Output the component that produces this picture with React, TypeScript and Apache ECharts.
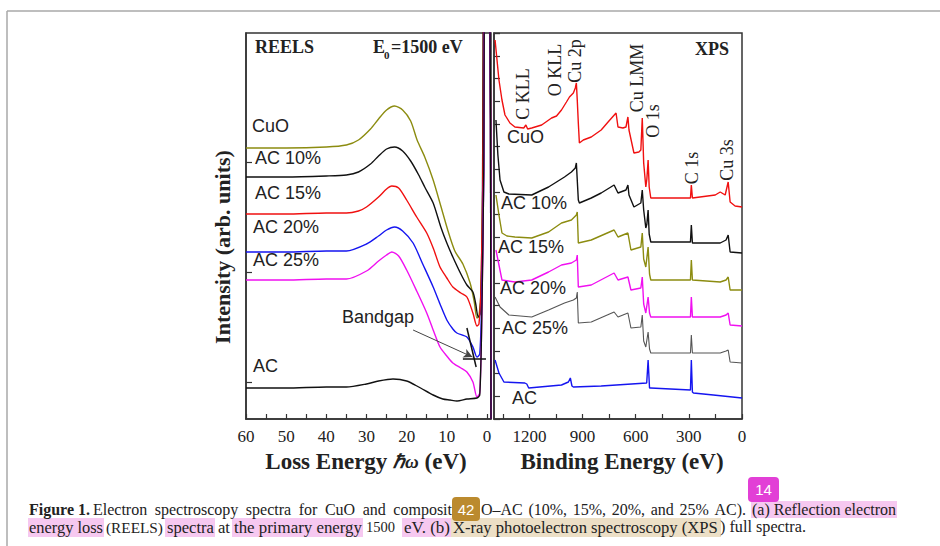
import React, { useEffect, useRef } from 'react';
import * as echarts from 'echarts';

const SERIF = '"Liberation Serif", "Times New Roman", serif';
const SANS = '"Liberation Sans", Arial, sans-serif';

// REELS: [loss energy (eV), intensity (arb.)]
const reelsCuO: number[][] = [[60,271],[50,271],[40,272],[35,274],[32,279],[29,290],[27,300],[25,309],[23,313],[21,309],[19,298],[17.4,279],[15.5,262],[13.4,239],[11.5,213],[9.7,188],[8,168],[6,155],[4.2,136],[3.2,118],[2.5,101],[2.0,103],[1.5,130],[1.0,250],[0.5,600],[-0.5,600],[-1,0]];
const reelsAC10: number[][] = [[60,242],[50,242],[40,243],[35,244],[32,247],[29,255],[27,263],[25,270],[23,272],[21,268],[19,258],[17,244],[15.5,232],[13.4,216],[11.5,192],[10,176],[8.5,162],[6.5,145],[5,134],[3.5,127],[2.8,115],[2.2,102],[1.7,105],[1.2,180],[0.5,600],[-0.5,600],[-1,0]];
const reelsAC15: number[][] = [[60,205],[50,205],[40,206],[35,206],[32,208],[30,212],[27,222],[25,230],[23.7,233],[22,231],[20,219],[17.5,202],[15,186],[13.3,170],[11.7,152],[10,141],[8.5,132],[6.5,126],[5,122],[3.5,106],[2.5,93],[2.0,95],[1.5,130],[1.0,250],[0.5,600],[-0.5,600],[-1,0]];
const reelsAC20: number[][] = [[60,167],[50,167],[40,168],[35,168],[30,175],[27,183],[25,189],[23,192],[21,188],[18.4,176],[16,155],[13.4,132],[11.7,115],[10,99],[8.5,90],[7.5,86],[5,82],[3.5,72],[2.5,62],[1.8,65],[1.3,120],[0.8,250],[0.4,600],[-0.5,600],[-1,0]];
const reelsAC25: number[][] = [[60,139],[50,139],[40,140],[35,140],[30,148],[27,158],[25,164],[23.7,167],[22,163],[20,149],[17.5,128],[15,106],[13.3,88],[11.7,72],[10,63],[8.5,56],[6.5,51],[5,47],[3.5,37],[2.5,22],[1.8,26],[1.3,100],[0.8,250],[0.4,600],[-0.5,600],[-1,0]];
const reelsAC: number[][] = [[60,31],[50,31],[40,32],[35,32],[30,35],[27,38],[23.4,40],[20,38],[17,32],[13.4,24],[11,20],[9.2,19],[7.5,18],[5,20],[2.5,21],[1.8,24],[1.3,100],[0.8,250],[0.4,600],[-0.5,600],[-1,0]];

// XPS: [binding energy (eV), intensity (arb.)]
const xpsCuO: number[][] = [[1394,379],[1372,339],[1355,319],[1338,304],[1310,296],[1282,292],[1232,291],[1220,294],[1210,290],[1187,291],[1131,294],[1075,301],[1047,303],[1019,309],[991,317],[974,322],[952,326],[941,331],[935,336],[930,319],[924,296],[918,276],[896,279],[851,282],[795,289],[756,297],[711,306],[700,292],[672,291],[655,292],[644,302],[638,289],[610,266],[582,267],[571,269],[563,301],[555,256],[543,232],[537,240],[530,259],[524,232],[515,221],[400,221],[291,221],[286,234],[280,221],[151,224],[123,227],[95,224],[78,237],[67,217],[39,213],[0,212]];
const xpsAC10: number[][] = [[1389,299],[1378,264],[1366,239],[1344,227],[1316,225],[1187,224],[1092,232],[1002,242],[963,247],[941,251],[935,256],[930,239],[924,219],[918,216],[851,221],[795,226],[722,234],[700,226],[655,229],[644,234],[638,224],[610,212],[571,216],[563,229],[555,209],[543,191],[537,195],[530,209],[524,185],[515,177],[291,177],[286,194],[280,176],[123,176],[90,179],[78,184],[67,167],[0,166]];
const xpsAC15: number[][] = [[1389,224],[1372,204],[1355,186],[1327,183],[1282,182],[1187,181],[1092,187],[1019,196],[963,199],[935,204],[930,207],[924,176],[851,179],[722,189],[700,182],[644,186],[627,169],[571,172],[563,186],[555,160],[543,152],[530,172],[522,145],[515,139],[291,139],[286,159],[280,139],[123,137],[90,139],[78,142],[67,129],[0,129]];
const xpsAC20: number[][] = [[1389,169],[1372,154],[1355,139],[1282,137],[1187,139],[1092,147],[1019,154],[963,156],[935,159],[930,164],[924,132],[851,134],[722,146],[700,139],[644,142],[627,129],[571,131],[563,142],[555,115],[543,106],[530,122],[522,106],[515,102],[291,102],[286,122],[280,102],[123,102],[90,104],[78,106],[67,94],[0,93]];
const xpsAC25: number[][] = [[1394,122],[1366,112],[1316,104],[1187,102],[1092,109],[1002,116],[952,119],[935,121],[930,127],[924,96],[851,97],[722,107],[700,102],[644,106],[627,91],[571,92],[563,104],[555,78],[543,72],[530,87],[522,70],[515,66],[291,66],[286,84],[280,66],[123,66],[90,68],[78,69],[67,57],[0,56]];
const xpsAC: number[][] = [[1394,59],[1372,46],[1344,37],[1226,36],[1215,35],[1204,31],[1019,34],[980,37],[969,41],[960,33],[952,32],[795,33],[538,36],[530,59],[522,31],[515,31],[291,29],[286,59],[280,27],[274,26],[162,24],[0,21]];

const reelsLabelTicks = [0, 10, 20, 30, 40, 50, 60];
const reelsMinorTicks = [0, 5, 10, 15, 20, 25, 30, 35, 40, 45, 50, 55, 60];
const xpsLabelTicks = [0, 300, 600, 900, 1200];
const xpsMinorTicks = [0, 150, 300, 450, 600, 750, 900, 1050, 1200, 1350];
const reelsYTicks = [37, 147, 257];

const reelsNames = ['CuO', 'AC 10%', 'AC 15%', 'AC 20%', 'AC 25%', 'AC'];
const reelsColors = ['#8c8c10', '#111111', '#f01010', '#1515f0', '#f010f0', '#111111'];
const reelsData = [reelsCuO, reelsAC10, reelsAC15, reelsAC20, reelsAC25, reelsAC];
const xpsColors = ['#f01010', '#111111', '#8c8c10', '#f010f0', '#555555', '#1515f0'];
const xpsData = [xpsCuO, xpsAC10, xpsAC15, xpsAC20, xpsAC25, xpsAC];

const peakLabels: [string, number, number][] = [
  ['C KLL', 523, 94], ['O KLL', 555, 70], ['Cu 2p', 575, 61], ['Cu LMM', 637, 78],
  ['O 1s', 653, 121], ['C 1s', 692, 168], ['Cu 3s', 727, 160],
];

// caption line 2 pieces: [text, left, right]
const captionLine2: [string, number, number][] = [
  ['energy loss', 29, 103], ['(REELS)', 106, 163], ['spectra', 167, 214], ['at', 218, 230],
  ['the primary energy', 234, 362], ['1500', 366, 395], ['eV. (b)', 404, 450],
  ['X-ray photoelectron spectroscopy (XPS', 453, 718], [') full spectra.', 720, 806],
];

function measure(text: string, font: string): number {
  const c = document.createElement('canvas').getContext('2d');
  if (!c) return text.length * 7;
  c.font = font;
  return c.measureText(text).width;
}

function justified(text: string, x0: number, x1: number, y: number, size: number): any[] {
  const words = text.split(' ');
  const font = `${size}px "Liberation Serif"`;
  const widths = words.map((w) => measure(w, font));
  const total = widths.reduce((a, b) => a + b, 0);
  const gap = words.length > 1 ? (x1 - x0 - total) / (words.length - 1) : 0;
  let x = x0;
  return words.map((w, i) => {
    const el = txt(w, x, y, { fontSize: size, fontFamily: SERIF, fill: '#222' });
    x += widths[i] + gap;
    return el;
  });
}

function fitted(text: string, x0: number, x1: number, y: number): any {
  const w = measure(text, '16px "Liberation Serif"');
  const size = Math.max(14, Math.min(17, (16 * (x1 - x0)) / Math.max(w, 1)));
  return txt(text, x0, y, { fontFamily: SERIF, fontSize: size });
}

function txt(text: string, x: number, y: number, s: any = {}, extra: any = {}) {
  return {
    type: 'text', x, y, z: 100, ...extra,
    style: {
      text, fill: '#222', fontFamily: SANS, fontSize: 18,
      align: 'left', verticalAlign: 'middle', textAlign: 'left', textVerticalAlign: 'middle', ...s,
    },
  };
}

function rect(x: number, y: number, w: number, h: number, fill: string, r = 0) {
  return { type: 'rect', z: 90, shape: { x, y, width: w, height: h, r }, style: { fill } };
}

export default function App() {
  const ref = useRef<HTMLDivElement>(null);
  useEffect(() => {
    if (!ref.current) return;
    const chart = echarts.init(ref.current, undefined, { renderer: 'svg' });
    const axisLineStyle = { color: '#333', width: 1.5 };
    const series: any[] = [];
    reelsData.forEach((d, i) => {
      const s: any = {
        type: 'line', name: 'REELS ' + reelsNames[i], xAxisIndex: 0, yAxisIndex: 0, data: d,
        showSymbol: false, symbol: 'none', smooth: 0.25, clip: true,
        lineStyle: { color: reelsColors[i], width: 1.4 }, z: 3,
      };
      if (i === 4) {
        s.markLine = {
          silent: true, symbol: ['none', 'none'], label: { show: false },
          data: [
            [{ coord: [5.0, 91], lineStyle: { color: '#111', width: 1.5, type: 'solid' } }, { coord: [2.7, 52] }],
            [{ coord: [6.0, 60], lineStyle: { color: '#111', width: 1.5, type: 'solid' } }, { coord: [0.25, 60] }],
            [{ coord: [18.4, 89], lineStyle: { color: '#444', width: 1, type: 'solid' } }, { coord: [3.6, 62], symbol: 'arrow', symbolSize: [7, 9] }],
          ],
        };
      }
      series.push(s);
    });
    xpsData.forEach((d, i) => {
      series.push({
        type: 'line', name: 'XPS ' + reelsNames[i], xAxisIndex: 1, yAxisIndex: 1, data: d,
        showSymbol: false, symbol: 'none', smooth: false, clip: true,
        lineStyle: { color: xpsColors[i], width: i === 4 ? 1.1 : 1.4 }, z: 3,
      });
    });

    const graphic: any[] = [
      { type: 'line', shape: { x1: 7, y1: 11, x2: 940, y2: 11 }, style: { stroke: '#a8a8a8', lineWidth: 1.5 } },
      { type: 'line', shape: { x1: 7, y1: 11, x2: 7, y2: 546 }, style: { stroke: '#a8a8a8', lineWidth: 1.5 } },
      txt('REELS', 255, 47, { fontFamily: SERIF, fontWeight: 'bold', fontSize: 18 }),
      txt('E', 373, 47, { fontFamily: SERIF, fontWeight: 'bold', fontSize: 18 }),
      txt('0', 384, 55, { fontFamily: SERIF, fontWeight: 'bold', fontSize: 11 }),
      txt('=1500 eV', 391, 47, { fontFamily: SERIF, fontWeight: 'bold', fontSize: 18 }),
      txt('XPS', 695, 49, { fontFamily: SERIF, fontWeight: 'bold', fontSize: 18 }),
      // REELS sample labels
      txt('CuO', 252, 126), txt('AC 10%', 255, 158), txt('AC 15%', 255, 193),
      txt('AC 20%', 253, 227), txt('AC 25%', 253, 260), txt('AC', 253, 366),
      txt('Bandgap', 342, 317),
      // XPS sample labels
      txt('CuO', 507, 137), txt('AC 10%', 501, 203), txt('AC 15%', 498, 247),
      txt('AC 20%', 500, 288), txt('AC 25%', 502, 328), txt('AC', 512, 398),
      ...peakLabels.map(([t, x, y]) => txt(t, x, y, { fontFamily: SERIF, fontSize: 18, align: 'center', textAlign: 'center' }, { rotation: Math.PI / 2 })),
      // axis titles
      txt('Intensity (arb. units)', 222, 247, { fontFamily: SERIF, fontWeight: 'bold', fontSize: 22, align: 'center', textAlign: 'center' }, { rotation: Math.PI / 2 }),
      txt('{a|Loss Energy }{b|ℏω}{a| (eV)}', 366, 461, {
        align: 'center', textAlign: 'center',
        rich: {
          a: { fontFamily: SERIF, fontWeight: 'bold', fontSize: 23, fill: '#222' },
          b: { fontFamily: SERIF, fontStyle: 'italic', fontWeight: 'bold', fontSize: 19, fill: '#222' },
        },
      }),
      txt('Binding Energy (eV)', 622, 461, { fontFamily: SERIF, fontWeight: 'bold', fontSize: 23, align: 'center', textAlign: 'center' }),
      // caption highlights
      rect(751, 501, 146, 17, '#f6c8f0'),
      rect(28, 518, 76, 19, '#f6c8f0'),
      rect(165, 518, 50, 19, '#f6c8f0'),
      rect(232, 518, 131, 19, '#f6c8f0'),
      rect(402, 518, 49, 19, '#f6c8f0'),
      rect(451, 518, 270, 19, '#ecdfc6'),
      // caption line 1
      txt('Figure 1.', 29, 509, { fontFamily: SERIF, fontWeight: 'bold', fontSize: 16 }),
      ...justified('Electron spectroscopy spectra for CuO and composit', 93, 452, 509, 16),
      ...justified('O–AC (10%, 15%, 20%, and 25% AC).', 481, 746, 509, 16),
      ...justified('(a) Reflection electron', 752, 896, 509, 16),
      // caption line 2
      ...captionLine2.map(([t, a, b]) => fitted(t, a, b, 527)),
      // badges
      { ...rect(452, 497, 28, 24, '#bb8a2e', 4), z: 110 },
      txt('42', 466, 509, { fill: '#fff', fontSize: 15, align: 'center', textAlign: 'center' }, { z: 111 }),
      { ...rect(748, 477, 31, 25, '#e23fd6', 4), z: 110 },
      txt('14', 763.5, 489.5, { fill: '#fff', fontSize: 15, align: 'center', textAlign: 'center' }, { z: 111 }),
    ];

    const plain = (v: number) => String(v);
    chart.setOption({
      animation: false,
      backgroundColor: '#ffffff',
      grid: [
        { left: 246, top: 33, width: 245, height: 386, show: true, borderColor: '#333', borderWidth: 1.5, backgroundColor: 'transparent' },
        { left: 494, top: 33, width: 248, height: 386, show: true, borderColor: '#333', borderWidth: 1.5, backgroundColor: 'transparent' },
      ],
      xAxis: [
        {
          gridIndex: 0, type: 'value', inverse: true, min: -1, max: 60,
          axisLine: { show: true, onZero: false, lineStyle: axisLineStyle },
          axisTick: { show: true, inside: true, length: 5, lineStyle: { color: '#333', width: 1.2 }, customValues: reelsMinorTicks },
          axisLabel: { show: true, customValues: reelsLabelTicks, formatter: plain, fontFamily: SERIF, fontSize: 17, color: '#222', margin: 9 },
          splitLine: { show: false },
        },
        {
          gridIndex: 1, type: 'value', inverse: true, min: 0, max: 1400,
          axisLine: { show: true, onZero: false, lineStyle: axisLineStyle },
          axisTick: { show: true, inside: true, length: 5, lineStyle: { color: '#333', width: 1.2 }, customValues: xpsMinorTicks },
          axisLabel: { show: true, customValues: xpsLabelTicks, formatter: plain, fontFamily: SERIF, fontSize: 17, color: '#222', margin: 9 },
          splitLine: { show: false },
        },
      ],
      yAxis: [
        {
          gridIndex: 0, type: 'value', min: 0, max: 386,
          axisLine: { show: true, onZero: false, lineStyle: axisLineStyle },
          axisTick: { show: true, inside: true, length: 6, lineStyle: { color: '#333', width: 1.2 }, customValues: reelsYTicks },
          axisLabel: { show: false },
          splitLine: { show: false },
        },
        {
          gridIndex: 1, type: 'value', min: 0, max: 386, interval: 22.7,
          axisLine: { show: true, onZero: false, lineStyle: axisLineStyle },
          axisTick: { show: true, inside: true, length: 6, lineStyle: { color: '#333', width: 1.2 } },
          axisLabel: { show: false },
          splitLine: { show: false },
        },
      ],
      series,
      graphic,
    });
    return () => chart.dispose();
  }, []);
  return <div ref={ref} style={{ position: 'absolute', left: 0, top: 0, width: 940, height: 546, background: '#fff' }} />;
}
